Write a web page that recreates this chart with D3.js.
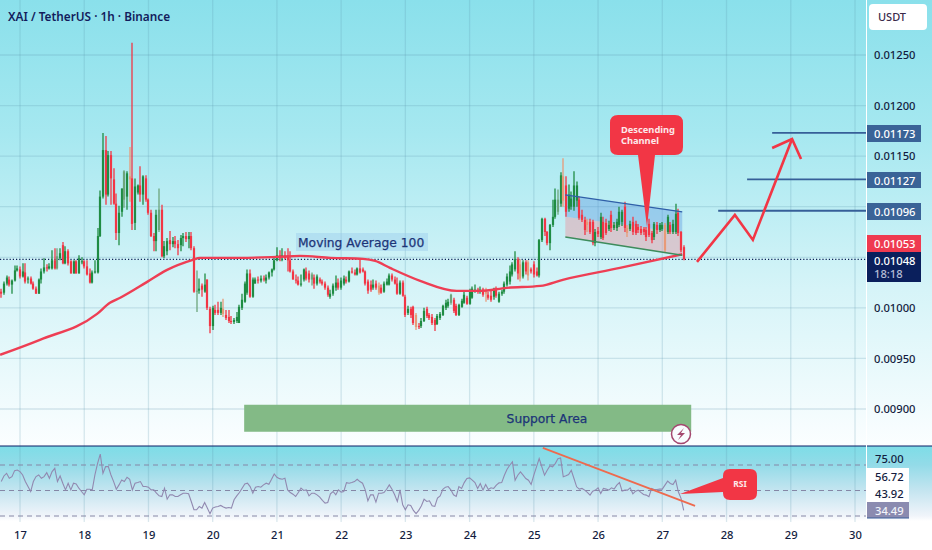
<!DOCTYPE html>
<html><head><meta charset="utf-8">
<script src="https://cdn.jsdelivr.net/npm/d3@7/dist/d3.min.js"></script>
<style>html,body{margin:0;padding:0;background:#fff;overflow:hidden}svg{display:block}
text{font-family:"Noto Sans",sans-serif}</style></head><body>
<svg id="c" width="932" height="550"></svg>
<script>
// hourly candles, prices in 1e-5 USDT
const opens=[1016,1015,1024,1028,1023,1027,1037,1038,1031,1035,
1028,1029,1024,1019,1014,1028,1036,1040,1039,1039,
1047,1039,1049,1062,1044,1056,1046,1034,1046,
1034,1046,1046,1041,1034,1025,1035,1035,1071,
1110,1156,1112,1151,1127,1103,1074,1095,1107,1110,
1130,1128,1084,1114,1121,1112,1128,1107,1094,1071,
1066,1077,1097,1051,1056,1067,1063,1066,1063,1062,1069,
1071,1068,1071,1059,1016,1017,1022,1016,1028,999,
982,998,998,995,999,993,991,987,986,987,985,1000,
1006,1015,1034,1011,1024,1028,1027,1029,1027,1030,1035,1038,
1047,1052,1051,1052,1052,1047,1036,1028,
1027,1023,1028,1036,1034,1028,1030,1024,1028,
1026,1024,1020,1011,1014,1020,1025,1020,1024,1028,
1026,1036,1035,1033,1039,1038,1036,1026,1023,1020,
1024,1022,1020,1016,1023,1023,1032,1028,1024,1014,
1025,1011,995,999,1001,993,982,982,987,999,
993,991,988,984,990,993,1000,1002,1005,1008,
1002,993,1001,1005,1010,1004,1010,1018,1018,1017,
1018,1017,1013,1012,1011,1019,1006,1014,1016,1023,
1026,1033,1038,1048,1043,1031,1045,1045,1038,1043,
1036,1032,1067,1088,1075,1064,1082,1090,1095,1103,
1130,1121,1098,1100,1100,1106,1107,1092,1087,1085,
1085,1085,1064,1076,1070,1085,1084,1078,1092,1079,
1079,1082,1085,1100,1079,1078,1085,1083,1080,1078,
1078,1077,1083,1074,1070,1082,1077,1078,1082,1075,
1082,1075,1075,1094,1075,1060];
const closes=[1014,1024,1030,1023,1027,1037,1039,1031,1036,1026,
1029,1024,1019,1014,1028,1036,1040,1039,1041,1047,
1039,1051,1054,1044,1056,1044,1034,1046,1034,
1049,1046,1041,1033,1025,1035,1036,1071,1110,
1156,1112,1151,1128,1103,1074,1094,1118,1135,1133,
1127,1083,1120,1121,1112,1130,1107,1094,1071,1066,
1092,1097,1051,1061,1066,1063,1066,1063,1059,1069,1071,
1068,1071,1059,1016,1017,1019,1018,1023,1000,982,
1000,995,995,1000,994,990,987,986,988,991,1001,1008,
1024,1034,1011,1028,1028,1027,1029,1028,1030,1035,1038,1047,
1052,1049,1052,1049,1047,1036,1028,1027,
1023,1024,1038,1029,1028,1033,1024,1031,1026,
1024,1020,1013,1014,1022,1025,1020,1027,1029,1026,
1036,1035,1033,1039,1035,1036,1024,1017,1018,1023,
1020,1015,1015,1024,1026,1032,1028,1024,1014,1025,
1012,993,999,993,985,981,981,987,997,992,
990,985,983,992,994,1002,1005,1006,1013,997,
993,1003,1007,1013,1004,1017,1019,1018,1016,1018,
1013,1014,1010,1008,1019,1012,1014,1016,1024,1031,
1036,1043,1048,1034,1029,1045,1036,1032,1036,1033,
1032,1067,1088,1075,1064,1082,1090,1107,1107,1131,
1106,1095,1112,1108,1121,1121,1089,1087,1077,1082,
1075,1064,1075,1073,1090,1069,1074,1082,1079,1082,
1085,1095,1095,1079,1074,1083,1075,1074,1077,1074,
1075,1070,1072,1067,1083,1077,1082,1082,1057,1090,
1075,1083,1093,1074,1057,1048];
const highs=[1019,1026,1032,1031,1028,1042,1042,1041,1044,1044,
1031,1031,1026,1021,1029,1039,1049,1043,1044,1057,
1059,1059,1059,1065,1061,1058,1047,1047,1047,
1052,1050,1047,1047,1039,1037,1047,1079,1116,
1173,1170,1155,1155,1138,1113,1101,1118,1136,1135,
1159,1262,1128,1122,1140,1131,1131,1108,1097,1074,
1097,1118,1102,1066,1069,1076,1070,1071,1067,1072,1074,
1075,1075,1075,1061,1037,1029,1024,1034,1028,1001,
1002,1003,1006,1006,1009,998,998,992,990,996,1003,1014,
1026,1038,1038,1030,1030,1031,1032,1032,1033,1036,1039,1051,
1060,1057,1059,1056,1059,1056,1038,1033,
1031,1033,1039,1040,1037,1035,1033,1033,1030,
1028,1026,1022,1018,1024,1032,1029,1030,1032,1031,
1037,1040,1038,1040,1049,1040,1037,1028,1027,1028,
1027,1025,1023,1026,1029,1034,1034,1031,1030,1027,
1027,1013,1002,1001,1002,995,985,990,1000,1001,
995,994,990,994,996,1003,1008,1009,1014,1010,
1004,1004,1009,1016,1012,1019,1021,1023,1020,1021,
1020,1020,1016,1017,1020,1021,1016,1018,1026,1034,
1042,1045,1056,1050,1048,1047,1047,1047,1040,1046,
1040,1068,1089,1089,1076,1083,1107,1118,1117,1134,
1148,1130,1122,1115,1135,1125,1110,1097,1090,1088,
1088,1087,1078,1080,1094,1090,1088,1086,1096,1085,
1088,1100,1097,1105,1082,1086,1090,1086,1083,1081,
1080,1080,1088,1076,1085,1085,1084,1085,1084,1092,
1085,1087,1103,1098,1076,1062];
const lows=[1010,1013,1022,1021,1014,1026,1036,1029,1030,1024,
1024,1023,1018,1014,1014,1024,1034,1036,1038,1038,
1038,1038,1047,1043,1043,1042,1034,1034,1034,
1034,1043,1039,1032,1024,1024,1034,1034,1070,
1108,1102,1110,1102,1102,1067,1062,1090,1099,1097,
1105,1077,1077,1112,1105,1102,1105,1092,1070,1056,
1056,1075,1050,1049,1052,1057,1060,1059,1052,1056,1061,
1065,1059,1057,1015,996,1014,1011,1015,998,975,
978,993,993,993,991,988,985,984,984,985,985,998,
1005,1013,1010,1010,1024,1024,1025,1026,1024,1028,1031,1037,
1046,1046,1046,1048,1036,1035,1028,1024,
1022,1021,1026,1027,1025,1022,1019,1022,1024,
1022,1018,1011,1009,1012,1017,1018,1018,1022,1024,
1025,1034,1032,1032,1034,1035,1022,1014,1016,1018,
1018,1013,1014,1015,1022,1022,1026,1023,1013,1013,
1011,991,993,990,983,978,979,980,986,990,
988,983,977,983,988,992,998,1000,1003,995,
992,992,1000,1004,1003,1003,1009,1015,1014,1014,
1011,1006,1008,1006,1008,1010,1005,1012,1014,1021,
1023,1031,1036,1028,1026,1029,1033,1027,1034,1030,
1031,1030,1065,1071,1062,1057,1080,1088,1092,1100,
1100,1090,1095,1097,1096,1100,1087,1085,1072,1075,
1073,1062,1061,1070,1068,1067,1072,1076,1075,1077,
1076,1080,1081,1075,1070,1076,1072,1072,1074,1072,
1072,1066,1070,1064,1067,1073,1075,1076,1055,1073,
1073,1073,1073,1071,1055,1047];
const fadedCandles=[21,46,48,59,73,83,116,141,155,168,181,194,197,208,210,219,234,248];
// hourly RSI
const rsi=[57,61.4,63.5,59.6,60.9,65.6,66.1,64.8,62.2,57,53.1,49.2,57,60.9,62.2,59.6,60.9,64,59.6,64.8,
67.4,57,61.4,55.7,50.5,55.7,50.5,55.7,55.2,51.8,49.2,46.6,51,51,50.5,62.2,71.3,78.6,63.5,68.7,
68.7,62.2,57,51,54.4,58.3,57,60.4,58.8,50.5,55.7,56.2,57,53.1,
53.1,52.6,50.5,50.5,47.9,45.8,45.3,51.8,43.2,46.6,46.6,45.3,45.3,46.6,47.9,47.9,47.4,41.4,34.9,34.9,37.5,36.2,40.6,36.2,31.8,36.2,
37,37.5,38.3,37,36.2,36.7,36.2,42.7,45.8,48.4,51.8,55.2,55.7,53.1,47.9,52.6,53.1,52.6,54.4,55.7,54.9,58.8,63,60.4,59.3,58.8,59.6,
50.5,48.4,47.1,45.3,48.4,51.8,50,50.5,45.8,47.9,47.9,46.6,44.8,42.2,40.1,40.6,47.4,49.2,46.6,50.5,48.7,49.2,56.2,55.7,56.2,57,58.8,57,55.7,
50.5,41.9,46.6,46.6,40.9,47.9,47.9,48.4,51,54.4,51,46.6,41.4,50.5,38.8,34.9,38.8,38.3,34.4,31.8,34.4,38,43.2,41.4,41.9,38,37.5,44,45.8,51,52.6,53.1,50.5,46.6,45.3,53.1,
51.6,56.2,59.4,59.9,58.1,56.2,51.6,55.5,50.3,54.7,50.8,52.1,51.6,54.2,56,56.2,62,66.7,69.8,72.4,58.1,62,64.6,62,59.4,58.1,54.7,62,68.5,75,68.5,62,65.9,69.3,68.5,71.1,75,75.5,
60.7,61.5,62.5,65.9,59.4,52.9,51.1,51.6,50.3,48.5,46.4,49.5,50.3,52.1,47.7,51.6,51.1,50.3,52.1,51.1,54.2,56.2,49.5,50.3,50.3,52.1,47.4,49.5,50.3,48.5,46.9,46.4,45.1,51.6,50.8,50.8,51.1,51.1,54.2,57.3,55.5,54.7,58.1,49,43.8,34.49];
// moving average 100, read at these days
const maDays=[16.69,17.31,18.2,18.4,18.56,18.98,19.29,19.69,19.8,20.43,21,21.36,21.83,22.34,22.53,22.76,23.23,23.8,24.16,24.58,25.1,25.45,26.34,27.31];
const maValues=[953.6,968.4,994,1005,1010,1025.7,1037.5,1047.4,1049.4,1049.4,1050.4,1051.4,1049.4,1048.4,1046.4,1039.5,1026.7,1016.8,1016.8,1019.8,1021.7,1027.7,1039.5,1053];
const priceTicks=[900,950,1000,1050,1100,1150,1200,1250];
const priceLabels=[900,950,1000,1100,1150,1200,1250];
const dayTicks=[17,18,19,20,21,22,23,24,25,26,27,28,29,30];
const rsiLevels=[70,50,30];
const targets=[1096,1127,1173];
const targetStarts=[27.87,28.32,28.71];
const firstCandleDay=16.708;
// drawings in [day, price]
const zigzag=[[27.54,1045.5],[28.13,1091.9],[28.41,1067.2],[29.02,1167]];
const arrowHead=[[28.71,1158.1],[29.02,1167],[29.16,1147.2]];
const channelTop=[[25.49,1111.7],[27.31,1094.9]];
const channelMid=[[25.49,1090],[27.31,1074]];
const channelBot=[[25.49,1070],[27.31,1052]];

const svg=d3.select("#c");
const W=932,axisX=866;
const x=d3.scaleLinear().domain([17,30]).range([20,855]);
const y=d3.scaleLinear().domain([900,1250]).range([409,55]);
const yR=d3.scaleLinear().domain([30,70]).range([516,465]);
const defs=svg.append("defs");
function grad(id,stops){const g=defs.append("linearGradient").attr("id",id).attr("x1",0).attr("x2",0).attr("y1",0).attr("y2",1);
 stops.forEach(s=>g.append("stop").attr("offset",s[0]).attr("stop-color",s[1]));}
grad("bg",[[0,"#8ae0eb"],[.3,"#a6e8f0"],[.65,"#d6f4f8"],[1,"#fbfeff"]]);
grad("bgr",[[0,"#7ddde7"],[.25,"#93dbe8"],[.6,"#c5e5f0"],[.93,"#f0f4fa"],[1,"#ffffff"]]);
svg.append("rect").attr("width",W).attr("height",446).attr("fill","url(#bg)");
svg.append("rect").attr("y",446).attr("width",W).attr("height",75).attr("fill","url(#bgr)");

// grid
const gridC="rgba(90,150,175,.22)";
svg.append("g").selectAll("line").data(dayTicks).join("line")
 .attr("x1",d=>x(d)).attr("x2",d=>x(d)).attr("y1",0).attr("y2",522).attr("stroke",gridC).attr("stroke-width",1.3);
svg.append("g").selectAll("line").data(priceTicks).join("line")
 .attr("x1",0).attr("x2",axisX).attr("y1",d=>y(d)).attr("y2",d=>y(d)).attr("stroke",gridC).attr("stroke-width",1.3);

// support area
const red="#f23645",green="#1f8c43",navy="#1c3478";
svg.append("rect").attr("x",x(20.49)).attr("width",x(27.45)-x(20.49)).attr("y",y(904.2)).attr("height",y(877.5)-y(904.2)).attr("fill","#83ba86");
svg.append("text").attr("x",547).attr("y",422.5).attr("text-anchor","middle").attr("fill",navy).attr("stroke",navy).attr("stroke-width",.25)
 .style("font-family","'DejaVu Sans'").style("font-size","12.3px").text("Support Area");

// channel fills
const poly=d3.line().x(d=>x(d[0])).y(d=>y(d[1]));
svg.append("path").attr("d",poly([...channelTop,...channelMid.slice().reverse()])+"Z").attr("fill","rgba(80,140,220,.35)");
svg.append("path").attr("d",poly([...channelMid,...channelBot.slice().reverse()])+"Z").attr("fill","rgba(230,160,170,.5)");

// dotted last price
svg.append("line").attr("x1",0).attr("x2",axisX).attr("y1",y(closes[closes.length-1])).attr("y2",y(closes[closes.length-1]))
 .attr("stroke","#0b1f55").attr("stroke-width",1.2).attr("stroke-dasharray","1.2 2");

// candles
const cand=d3.range(opens.length).map(i=>({i,d:firstCandleDay+i/24,o:opens[i],c:closes[i],h:highs[i],l:lows[i],f:fadedCandles.includes(i)}));
const col=d=>d.c>=d.o?(d.f?"#6da57c":green):(d.f?"#e89a78":red);
const gc=svg.append("g");
gc.selectAll("line").data(cand).join("line").attr("x1",d=>Math.round(x(d.d))).attr("x2",d=>Math.round(x(d.d)))
 .attr("y1",d=>y(d.h)).attr("y2",d=>y(d.l)).attr("stroke",col).attr("stroke-width",1.3);
gc.selectAll("rect").data(cand).join("rect").attr("x",d=>Math.round(x(d.d))-1.1).attr("width",2.2)
 .attr("y",d=>y(Math.max(d.o,d.c))).attr("height",d=>Math.max(1,Math.abs(y(d.o)-y(d.c)))).attr("fill",col);

// MA
svg.append("path").datum(maDays.map((d,i)=>[d,maValues[i]])).attr("d",poly.curve(d3.curveMonotoneX)).attr("fill","none").attr("stroke","#ee3e54").attr("stroke-width",2.4).attr("stroke-linejoin","round");
poly.curve(d3.curveLinear);

// channel lines
[[channelTop,"#2f5fa8"],[channelBot,"#3d8c5c"]].forEach(a=>svg.append("path").attr("d",poly(a[0])).attr("stroke",a[1]).attr("stroke-width",1.5).attr("fill","none"));

// target lines
svg.append("g").selectAll("line").data(targets).join("line").attr("x1",(d,i)=>x(targetStarts[i])).attr("x2",axisX)
 .attr("y1",d=>y(d)).attr("y2",d=>y(d)).attr("stroke","#365f98").attr("stroke-width",1.8);

// arrow
[zigzag,arrowHead].forEach(a=>svg.append("path").attr("d",poly(a)).attr("fill","none").attr("stroke",red).attr("stroke-width",2.6).attr("stroke-linejoin","miter"));

// MA label
svg.append("rect").attr("x",296).attr("y",233).attr("width",132).attr("height",18).attr("fill","rgba(150,200,235,.4)");
svg.append("text").attr("x",298).attr("y",246.5).attr("fill",navy).attr("stroke",navy).attr("stroke-width",.25).style("font-family","'DejaVu Sans'").style("font-size","12.3px").text("Moving Average 100");

// Descending callout
svg.append("path").attr("fill",red).attr("d","M618 115H675Q683 115 683 123V147Q683 155 675 155H655L647 227L638 155H618Q610 155 610 147V123Q610 115 618 115Z");
svg.append("text").attr("x",621).attr("y",133).attr("fill","#fde8ea").style("font-size","9.3px").style("font-weight",700).text("Descending");
svg.append("text").attr("x",621).attr("y",143.5).attr("fill","#fde8ea").style("font-size","9.3px").style("font-weight",700).text("Channel");

// lightning badge
svg.append("circle").attr("cx",681).attr("cy",434).attr("r",9.5).attr("fill","#f8fcff").attr("stroke","#a4476f").attr("stroke-width",1.5);
svg.append("path").attr("d","M684 428L677 435H681L678 440L685 433H681Z").attr("fill","#a4476f");

// separator
svg.append("line").attr("x1",0).attr("x2",W).attr("y1",446).attr("y2",446).attr("stroke","#0c1f66").attr("stroke-width",1.2);
svg.append("line").attr("x1",axisX+.5).attr("x2",axisX+.5).attr("y1",0).attr("y2",521).attr("stroke","#fff").attr("stroke-width",1);

// RSI
svg.append("g").selectAll("line").data(rsiLevels).join("line").attr("x1",0).attr("x2",axisX).attr("y1",d=>yR(d)).attr("y2",d=>yR(d))
 .attr("stroke","#8587a6").attr("stroke-width",1.2).attr("stroke-dasharray","5 4");
svg.append("path").datum(rsi).attr("fill","none").attr("stroke","#9189b0").attr("stroke-width",1.1)
 .attr("d",d3.line().x((d,i)=>x(firstCandleDay+i/24)).y(d=>yR(d)));
svg.append("line").attr("x1",x(25.14)).attr("y1",yR(83.4)).attr("x2",x(27.51)).attr("y2",yR(38)).attr("stroke","#ee6a4e").attr("stroke-width",1.8);

// RSI callout
svg.append("path").attr("fill",red).attr("d","M730 469H750Q757 469 757 476V493Q757 500 750 500H730Q723 500 723 493V492L680 494L723 478V476Q723 469 730 469Z");
svg.append("text").attr("x",740).attr("y",487).attr("text-anchor","middle").attr("fill","#fde8ea").style("font-size","8.5px").style("font-weight",700).text("RSI");

// title
svg.append("text").attr("x",8).attr("y",21).attr("fill","#131c5c").style("font-size","11.8px").style("font-weight",600).text("XAI / TetherUS · 1h · Binance");

// axes
const axP=svg.append("g").attr("transform",`translate(${axisX+1},0)`)
 .call(d3.axisRight(y).tickValues(priceLabels).tickSize(0).tickPadding(7).tickFormat(d=>(d/1e5).toFixed(5)));
const axD=svg.append("g").attr("transform","translate(0,528.5)")
 .call(d3.axisBottom(x).tickValues(dayTicks).tickSize(0).tickPadding(3).tickFormat(d=>d));
[axP,axD].forEach(a=>{a.select(".domain").remove();a.selectAll("text").attr("fill","#131c40").style("font-size","11.2px").style("font-family","'Noto Sans'").style("font-weight",500);});

// value boxes
function box(yTop,h,fill,lines){
 svg.append("rect").attr("x",867).attr("y",yTop).attr("width",54).attr("height",h).attr("fill",fill);
 lines.forEach(l=>svg.append("text").attr("x",874).attr("y",l[1]).attr("fill",l[2]||"#fff").style("font-size","11.2px").style("font-weight",500).text(l[0]));
}
box(125,17,"#3a6397",[["0.01173",137.5]]);
box(172,16,"#3a6397",[["0.01127",184.5]]);
box(203,17,"#3a6397",[["0.01096",215.5]]);
box(235,17,"#ef3a50",[["0.01053",247.5]]);
box(252,30,"#0a1f5c",[["0.01048",264.5],["18:18",277.5,"#b5bdd6"]]);

// RSI axis labels
const rt=(t,yy,f)=>svg.append("text").attr("x",875).attr("y",yy).attr("fill",f||"#131c40").style("font-size","11.2px").style("font-weight",500).text(t);
rt("75.00",463);
svg.append("rect").attr("x",867).attr("y",468).attr("width",42).attr("height",34).attr("fill","#fff");
rt("56.72",481);
rt("43.92",498);
svg.append("rect").attr("x",867).attr("y",502).attr("width",42).attr("height",16).attr("fill","#8b8bb0");
svg.append("line").attr("x1",867).attr("x2",909).attr("y1",518).attr("y2",518).attr("stroke","#3b5f9a").attr("stroke-width",1);
rt("34.49",514.5,"#f2f4fa");

// currency button
svg.append("rect").attr("x",869).attr("y",4).attr("width",58).attr("height",26).attr("rx",4).attr("fill","#ffffff");
svg.append("text").attr("x",892).attr("y",21).attr("text-anchor","middle").attr("fill","#3a2a4a").style("font-size","11px").style("font-weight",500).text("USDT");
</script></body></html>
